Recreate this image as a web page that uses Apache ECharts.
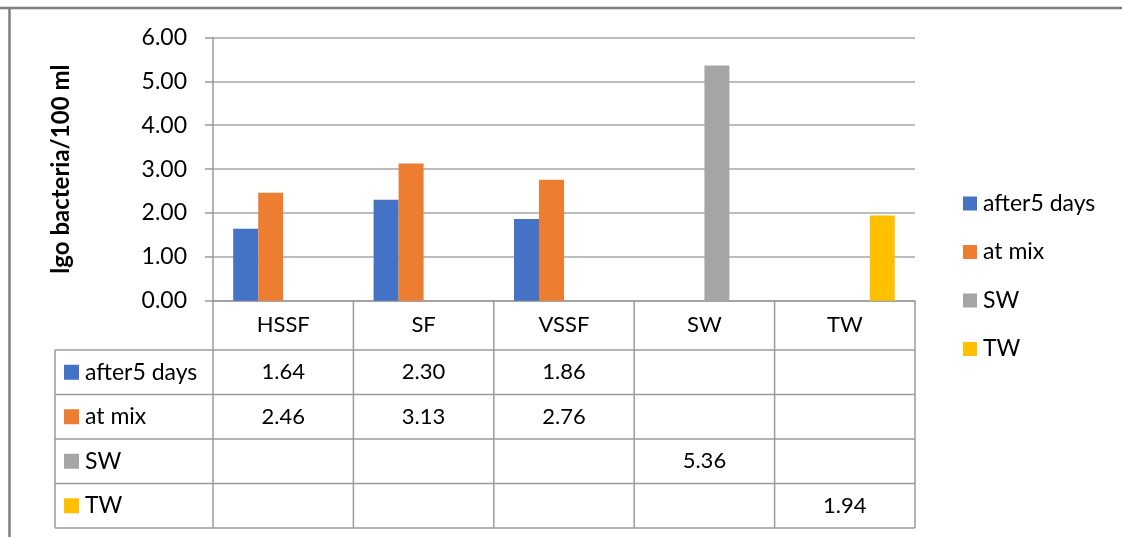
<!DOCTYPE html>
<html><head><meta charset="utf-8">
<script src="https://cdn.jsdelivr.net/npm/echarts@6/dist/echarts.min.js"></script>
<style>html,body{margin:0;padding:0;background:#fff}#c{width:1122px;height:537px}</style>
</head><body><div id="c"></div>
<script>
const categories = ['HSSF', 'SF', 'VSSF', 'SW', 'TW'];
const seriesNames = ['after5 days', 'at mix', 'SW', 'TW'];
const after5Days = [1.64, 2.30, 1.86, null, null];
const atMix = [2.46, 3.13, 2.76, null, null];
const swValues = [null, null, null, 5.36, null];
const twValues = [null, null, null, null, 1.94];
const yMin = 0, yMax = 6, yStep = 1;
const yTitle = 'lgo bacteria/100 ml';

const seriesValues = [after5Days, atMix, swValues, twValues];
const colors = ['#4472C4', '#ED7D31', '#A5A5A5', '#FFC000'];
const FONT = 'Lato';
const TXT = '#000';
const LINE = '#9a9a9a';
const FS = 22;
const FS_NAME = 23;

const chart = echarts.init(document.getElementById('c'), null, {renderer: 'canvas'});
const option = {
  animation: false,
  backgroundColor: '#fff',
  textStyle: {fontFamily: FONT},
  grid: {left: 213, right: 207, top: 37.5, bottom: 236.3, containLabel: false},
  legend: {
    orient: 'vertical', left: 958, top: 187,
    icon: 'rect', itemWidth: 14, itemHeight: 14, itemGap: 25.5, itemSpacing: 3,
    textStyle: {fontFamily: FONT, fontSize: FS_NAME, color: TXT, lineHeight: 21, padding: [0, 0, 0, 1]},
    data: seriesNames
  },
  xAxis: {
    type: 'category', data: categories,
    axisLine: {show: true, lineStyle: {color: LINE, width: 1.5}},
    axisTick: {show: false},
    axisLabel: {fontFamily: FONT, fontSize: FS, color: TXT, margin: 13},
    splitLine: {show: false}
  },
  yAxis: {
    type: 'value', min: yMin, max: yMax, interval: yStep,
    name: yTitle, nameLocation: 'middle', nameGap: 140, nameRotate: 90,
    nameTextStyle: {fontFamily: FONT, fontSize: 24, fontWeight: 'bold', color: TXT},
    axisLine: {show: true, lineStyle: {color: LINE, width: 1.5}},
    axisTick: {show: true, length: 8, lineStyle: {color: LINE, width: 1.5}},
    axisLabel: {fontFamily: FONT, fontSize: 23, color: TXT, margin: 26, formatter: v => v.toFixed(2)},
    splitLine: {show: true, lineStyle: {color: '#a6a6a6', width: 1.5}}
  },
  series: seriesNames.map((n, i) => ({
    name: n, type: 'bar', data: seriesValues[i],
    barWidth: 25, barGap: '0%',
    itemStyle: {color: colors[i]}
  }))
};
chart.setOption(option);

// data table below the plot, built from the same arrays
const x0 = chart.convertToPixel({xAxisIndex: 0}, categories[0]);
const x1 = chart.convertToPixel({xAxisIndex: 0}, categories[1]);
const band = x1 - x0;
const axisY = chart.convertToPixel({yAxisIndex: 0}, yMin);
const headerBottom = 350;
const rowH = 44.5;
const tableLeft = 55;
const tableBottom = headerBottom + rowH * seriesNames.length;
const elements = [];
const ln = (xa, ya, xb, yb, c, w) => elements.push({type: 'line', shape: {x1: xa, y1: ya, x2: xb, y2: yb}, style: {stroke: c || LINE, lineWidth: w || 1.5}, silent: true});
const colEdges = [];
for (let i = 0; i <= categories.length; i++) colEdges.push(x0 - band / 2 + band * i);
colEdges.forEach(x => ln(x, axisY, x, tableBottom));
for (let r = 0; r <= seriesNames.length; r++) {
  const y = headerBottom + rowH * r;
  ln(tableLeft, y, colEdges[colEdges.length - 1], y);
}
ln(tableLeft, headerBottom, tableLeft, tableBottom);
seriesNames.forEach((n, r) => {
  const cy = headerBottom + rowH * r + rowH / 2;
  elements.push({type: 'rect', shape: {x: 64, y: cy - 7.5, width: 15, height: 15}, style: {fill: colors[r]}, silent: true});
  elements.push({type: 'text', x: 85, y: cy, style: {text: n, fontFamily: FONT, fontSize: FS_NAME, fill: TXT, verticalAlign: 'middle', align: 'left'}, silent: true});
  seriesValues[r].forEach((v, c) => {
    if (v == null) return;
    const cx = chart.convertToPixel({xAxisIndex: 0}, categories[c]);
    elements.push({type: 'text', x: cx, y: cy, style: {text: v.toFixed(2), fontFamily: FONT, fontSize: FS, fill: TXT, verticalAlign: 'middle', align: 'center'}, silent: true});
  });
});
// outer chart frame
ln(0, 8, 1122, 8, '#7f7f7f', 2.5);
ln(9.5, 8, 9.5, 537, '#7f7f7f', 2.5);
chart.setOption({graphic: {elements}});
</script></body></html>
